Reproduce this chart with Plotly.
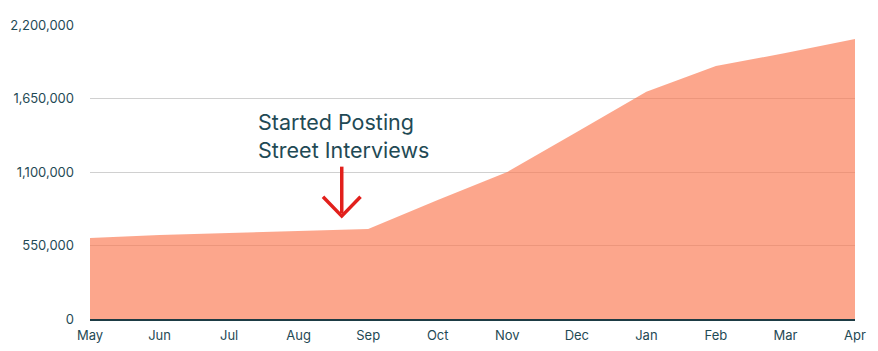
import plotly.graph_objects as go

months = ["May", "Jun", "Jul", "Aug", "Sep", "Oct", "Nov", "Dec", "Jan", "Feb", "Mar", "Apr"]
followers = [606000, 629000, 643000, 658000, 673000, 890000, 1100000, 1400000, 1700000, 1893000, 1990000, 2095000]
y_ticks = [0, 550000, 1100000, 1650000, 2200000]

x_idx = list(range(len(months)))
text_col = "#1f4a55"

fig = go.Figure()
fig.add_trace(go.Scatter(
    x=x_idx, y=followers, mode="lines", fill="tozeroy",
    line=dict(width=0, color="rgba(250,120,80,0.66)"),
    fillcolor="rgba(250,120,80,0.66)", hoverinfo="skip", showlegend=False,
))

# arrow (annotation marker)
ax_x = 3.62
fig.add_shape(type="line", x0=ax_x, x1=ax_x, y0=1140000, y1=790000, xref="x", yref="y",
              line=dict(color="#e2201c", width=3.5))
fig.add_shape(type="path", xref="x", yref="y",
              path=f"M {ax_x-0.27} 915000 L {ax_x} 770000 L {ax_x+0.27} 915000",
              line=dict(color="#e2201c", width=3.5))

fig.add_annotation(x=2.39, y=1590000, xref="x", yref="y", xanchor="left", yanchor="top",
                   text="Started Posting<br>Street Interviews", showarrow=False, align="left",
                   font=dict(family="Inter", size=21.5, color=text_col))

fig.update_layout(
    width=878, height=351, margin=dict(l=90, r=23, t=25, b=32),
    paper_bgcolor="white", plot_bgcolor="white",
    font=dict(family="Inter", size=13, color=text_col),
    xaxis=dict(range=[0, 11], tickvals=x_idx, ticktext=months, showgrid=False,
               showline=True, linecolor="#1d3b44", linewidth=1.5, zeroline=False,
               ticks="", ticklabelstandoff=4, automargin=False,
               tickfont=dict(size=13, color=text_col)),
    yaxis=dict(range=[0, 2200000], tickvals=y_ticks, tickformat=",", showgrid=True,
               gridcolor="#d0d0d0", gridwidth=1, zeroline=False, showline=False,
               ticklabelstandoff=15, automargin=False,
               tickfont=dict(size=13, color=text_col)),
)

fig.write_html("out.html")
